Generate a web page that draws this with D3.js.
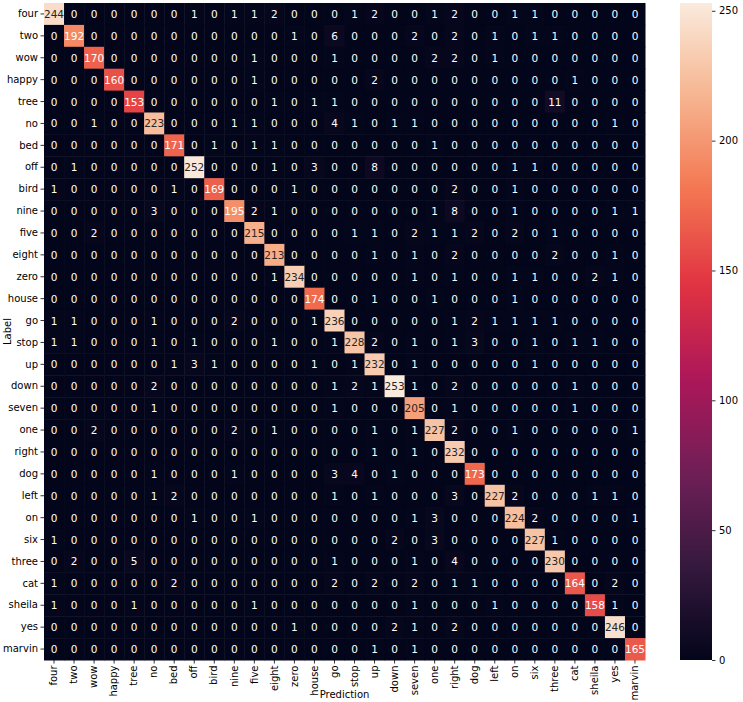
<!DOCTYPE html>
<html>
<head>
<meta charset="utf-8">
<script src="https://cdn.jsdelivr.net/npm/d3@7"></script>
<style>
  html, body { margin: 0; padding: 0; background: #fff; }
  svg text { font-family: "DejaVu Sans", sans-serif; }
</style>
</head>
<body>
<div id="chart"></div>
<script>
// class names, same order for rows (Label) and columns (Prediction)
const labels = ["four", "two", "wow", "happy", "tree", "no", "bed", "off", "bird", "nine",
  "five", "eight", "zero", "house", "go", "stop", "up", "down", "seven", "one",
  "right", "dog", "left", "on", "six", "three", "cat", "sheila", "yes", "marvin"];

// confusion counts, one row per true label
const counts = [
  [244,0,0,0,0,0,0,1,0,1,1,2,0,0,0,1,2,0,0,1,2,0,0,1,1,0,0,0,0,0],
  [0,192,0,0,0,0,0,0,0,0,0,0,1,0,6,0,0,0,2,0,2,0,1,0,1,1,0,0,0,0],
  [0,0,170,0,0,0,0,0,0,0,1,0,0,0,1,0,0,0,0,2,2,0,1,0,0,0,0,0,0,0],
  [0,0,0,160,0,0,0,0,0,0,1,0,0,0,0,0,2,0,0,0,0,0,0,0,0,0,1,0,0,0],
  [0,0,0,0,153,0,0,0,0,0,0,1,0,1,1,0,0,0,0,0,0,0,0,0,0,11,0,0,0,0],
  [0,0,1,0,0,223,0,0,0,1,1,0,0,0,4,1,0,1,1,0,0,0,0,0,0,0,0,0,1,0],
  [0,0,0,0,0,0,171,0,1,0,1,1,0,0,0,0,0,0,0,1,0,0,0,0,0,0,0,0,0,0],
  [0,1,0,0,0,0,0,252,0,0,0,1,0,3,0,0,8,0,0,0,0,0,0,1,1,0,0,0,0,0],
  [1,0,0,0,0,0,1,0,169,0,0,0,1,0,0,0,0,0,0,0,2,0,0,1,0,0,0,0,0,0],
  [0,0,0,0,0,3,0,0,0,195,2,1,0,0,0,0,0,0,0,1,8,0,0,1,0,0,0,0,1,1],
  [0,0,2,0,0,0,0,0,0,0,215,0,0,0,0,1,1,0,2,1,1,2,0,2,0,1,0,0,0,0],
  [0,0,0,0,0,0,0,0,0,0,0,213,0,0,0,0,1,0,1,0,2,0,0,0,0,2,0,0,1,0],
  [0,0,0,0,0,0,0,0,0,0,0,1,234,0,0,0,0,0,1,0,1,0,0,1,1,0,0,2,1,0],
  [0,0,0,0,0,0,0,0,0,0,0,0,0,174,0,0,1,0,0,1,0,0,0,1,0,0,0,0,0,0],
  [1,1,0,0,0,1,0,0,0,2,0,0,0,1,236,0,0,0,0,0,1,2,1,1,1,1,0,0,0,0],
  [1,1,0,0,0,1,0,1,0,0,0,1,0,0,1,228,2,0,1,0,1,3,0,0,1,0,1,1,0,0],
  [0,0,0,0,0,0,1,3,1,0,0,0,0,1,0,1,232,0,1,0,0,0,0,0,1,0,0,0,0,0],
  [0,0,0,0,0,2,0,0,0,0,0,0,0,0,1,2,1,253,1,0,2,0,0,0,0,0,1,0,0,0],
  [0,0,0,0,0,1,0,0,0,0,0,0,0,0,1,0,0,0,205,0,1,0,0,0,0,0,1,0,0,0],
  [0,0,2,0,0,0,0,0,0,2,0,1,0,0,0,0,1,0,1,227,2,0,0,1,0,0,0,0,0,1],
  [0,0,0,0,0,0,0,0,0,0,0,0,0,0,0,0,1,0,1,0,232,0,0,0,0,0,0,0,0,0],
  [0,0,0,0,0,1,0,0,0,1,0,0,0,0,3,4,0,1,0,0,0,173,0,0,0,0,0,0,0,0],
  [0,0,0,0,0,1,2,0,0,0,0,0,0,0,1,0,1,0,0,0,3,0,227,2,0,0,0,1,1,0],
  [0,0,0,0,0,0,0,1,0,0,1,0,0,0,0,0,0,0,1,3,0,0,0,224,2,0,0,0,0,1],
  [1,0,0,0,0,0,0,0,0,0,0,0,0,0,0,0,0,2,0,3,0,0,0,0,227,1,0,0,0,0],
  [0,2,0,0,5,0,0,0,0,0,0,0,0,0,1,0,0,0,1,0,4,0,0,0,0,230,0,0,0,0],
  [1,0,0,0,0,0,2,0,0,0,0,0,0,0,2,0,2,0,2,0,1,1,0,0,0,0,164,0,2,0],
  [1,0,0,0,1,0,0,0,0,0,1,0,0,0,0,0,0,0,1,0,0,0,1,0,0,0,0,158,1,0],
  [0,0,0,0,0,0,0,0,0,0,0,0,1,0,0,0,0,2,1,0,2,0,0,0,0,0,0,0,246,0],
  [0,0,0,0,0,0,0,0,0,0,0,0,0,0,0,0,1,0,1,0,0,0,0,0,0,0,0,0,0,165]
];

const cbarTicks = [0, 50, 100, 150, 200, 250];

// rocket colormap anchor colours (seaborn)
const rocketStops = ["#03051a", "#35193e", "#701f57", "#ad1759", "#e13342", "#f37651", "#f6b48f", "#faebdd"];

const W = 743, H = 702;
const M = { left: 44, right: 645, top: 3, bottom: 660 };
const CBAR = { x: 680, w: 32 };
const FONT = "10px";

const svg = d3.select("#chart").append("svg")
    .attr("width", W)
    .attr("height", H);

const vmax = d3.max(counts.flat());

// Colour scale built from the rocket anchors
const rocketPos = rocketStops.map((c, i) => i === 0 ? 0 : i === rocketStops.length - 1 ? 1 : i / 7);
const color = d3.scaleLinear()
    .domain(rocketPos.map(p => p * vmax))
    .range(rocketStops)
    .interpolate(d3.interpolateRgb)
    .clamp(true);

const x = d3.scaleBand().domain(labels).range([M.left, M.right]).padding(0);
const y = d3.scaleBand().domain(labels).range([M.top, M.bottom]).padding(0);

// flatten for cells
const cells = [];
counts.forEach((row, i) => row.forEach((v, j) => cells.push({ r: labels[i], c: labels[j], v })));

// luminance rule seaborn uses to pick annotation colour
function lum(c) {
    const rgb = d3.rgb(c);
    const f = v => { v /= 255; return v <= 0.03928 ? v / 12.92 : Math.pow((v + 0.055) / 1.055, 2.4); };
    return 0.2126 * f(rgb.r) + 0.7152 * f(rgb.g) + 0.0722 * f(rgb.b);
}

svg.append("g").selectAll("rect")
    .data(cells)
    .enter()
    .append("rect")
    .attr("x", d => x(d.c))
    .attr("y", d => y(d.r))
    .attr("width", x.bandwidth() + 0.5)
    .attr("height", y.bandwidth() + 0.5)
    .attr("fill", d => color(d.v));

svg.append("g").selectAll("text")
    .data(cells)
    .enter()
    .append("text")
    .attr("x", d => x(d.c) + x.bandwidth() / 2)
    .attr("y", d => y(d.r) + y.bandwidth() / 2)
    .attr("text-anchor", "middle")
    .attr("dominant-baseline", "central")
    .attr("font-size", "10.5px")
    .attr("fill", d => lum(color(d.v)) > 0.408 ? "#262626" : "#ffffff")
    .text(d => d.v);

// y axis (true label)
const yAxis = svg.append("g")
    .attr("transform", `translate(${M.left},0)`)
    .call(d3.axisLeft(y).tickSize(3.5).tickPadding(2.5));
yAxis.select(".domain").remove();
yAxis.selectAll("text").attr("font-size", FONT).attr("fill", "#000");
yAxis.selectAll("line").attr("stroke", "#000").attr("stroke-width", 0.8);

// x axis (prediction), labels rotated
const xAxis = svg.append("g")
    .attr("transform", `translate(0,${M.bottom})`)
    .call(d3.axisBottom(x).tickSize(3.5).tickPadding(2));
xAxis.select(".domain").remove();
xAxis.selectAll("line").attr("stroke", "#000").attr("stroke-width", 0.8);
xAxis.selectAll("text")
    .attr("font-size", FONT)
    .attr("fill", "#000")
    .attr("transform", "rotate(-90)")
    .attr("x", -5.5)
    .attr("y", 0)
    .attr("dy", "0.32em")
    .style("text-anchor", "end");

// axis titles
svg.append("text")
    .attr("x", (M.left + M.right) / 2)
    .attr("y", 698)
    .attr("text-anchor", "middle")
    .attr("font-size", FONT)
    .text("Prediction");

svg.append("text")
    .attr("transform", `translate(11,${(M.top + M.bottom) / 2}) rotate(-90)`)
    .attr("text-anchor", "middle")
    .attr("font-size", FONT)
    .text("Label");

// colour bar
const cScale = d3.scaleLinear().domain([0, vmax]).range([M.bottom, M.top]);
const grad = svg.append("defs").append("linearGradient")
    .attr("id", "rocket")
    .attr("x1", 0).attr("y1", 1).attr("x2", 0).attr("y2", 0);
d3.range(0, 1.0001, 0.02).forEach(t => {
    grad.append("stop").attr("offset", t).attr("stop-color", color(t * vmax));
});
svg.append("rect")
    .attr("x", CBAR.x)
    .attr("y", M.top)
    .attr("width", CBAR.w)
    .attr("height", M.bottom - M.top)
    .attr("fill", "url(#rocket)");

const cAxis = svg.append("g")
    .attr("transform", `translate(${CBAR.x + CBAR.w},0)`)
    .call(d3.axisRight(cScale).tickValues(cbarTicks).tickSize(3.5).tickPadding(3.5));
cAxis.select(".domain").remove();
cAxis.selectAll("text").attr("font-size", FONT).attr("fill", "#000");
cAxis.selectAll("line").attr("stroke", "#000").attr("stroke-width", 0.8);
</script>
</body>
</html>
